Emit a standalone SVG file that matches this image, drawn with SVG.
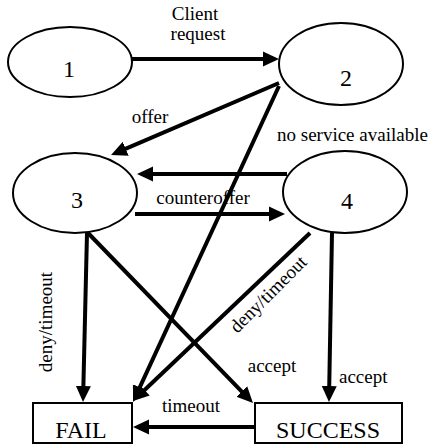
<svg xmlns="http://www.w3.org/2000/svg" width="429" height="447" viewBox="0 0 429 447">
<style>
.node{fill:#fff;stroke:#000;stroke-width:2}
.edge{fill:none;stroke:#000;stroke-width:4}
text{font-family:'Liberation Serif','DejaVu Serif',serif;fill:#000}
.num{font-size:24px;text-anchor:middle}
.lbl{font-size:19px}
.mid{text-anchor:middle}
</style>
<defs>
<marker id="ah" markerUnits="userSpaceOnUse" markerWidth="16" markerHeight="16" viewBox="0 0 16 16" refX="8" refY="8" orient="auto">
<path d="M0,0.5 L16,8 L0,15.5 Z" fill="#000"/>
</marker>
</defs>
<rect width="429" height="447" fill="#fff"/>
<g id="connectors">
<line class="edge" x1="132" y1="59" x2="271" y2="59" marker-end="url(#ah)"/>
<line class="edge" x1="279" y1="83" x2="118.4" y2="151.9" marker-end="url(#ah)"/>
<line class="edge" x1="279" y1="86" x2="136.4" y2="394.7" marker-end="url(#ah)"/>
<line class="edge" x1="287" y1="174" x2="145" y2="174" marker-end="url(#ah)"/>
<line class="edge" x1="135" y1="214" x2="277" y2="214" marker-end="url(#ah)"/>
<line class="edge" x1="87" y1="233" x2="83.2" y2="394" marker-end="url(#ah)"/>
<line class="edge" x1="88" y1="233" x2="247.4" y2="397.3" marker-end="url(#ah)"/>
<line class="edge" x1="310" y1="233" x2="138.8" y2="395.5" marker-end="url(#ah)"/>
<line class="edge" x1="332" y1="233" x2="329.1" y2="394" marker-end="url(#ah)"/>
<line class="edge" x1="255" y1="427" x2="141" y2="427" marker-end="url(#ah)"/>
<g font-family="Liberation Serif, DejaVu Serif, serif">
<text class="lbl mid" x="195" y="20">Client</text>
<text class="lbl mid" x="198" y="40">request</text>
<text class="lbl mid" x="150" y="123">offer</text>
<text class="lbl" x="277" y="141">no service available</text>
<text class="lbl mid" x="203" y="204">counteroffer</text>
<text class="lbl mid" x="272" y="372">accept</text>
<text class="lbl" x="339" y="383">accept</text>
<text class="lbl mid" x="191" y="412">timeout</text>
<text class="lbl mid" transform="translate(52,322) rotate(-90)">deny/timeout</text>
<text class="lbl mid" transform="translate(272.6,298.6) rotate(-45)">deny/timeout</text>
</g>
</g>
<g id="node1"><ellipse class="node" cx="70" cy="62" rx="62" ry="35"/><text class="num" x="69" y="77">1</text></g>
<g id="node2"><ellipse class="node" cx="341" cy="64" rx="62" ry="41"/><text class="num" x="346" y="86">2</text></g>
<g id="node3"><ellipse class="node" cx="75" cy="193" rx="62" ry="40"/><text class="num" x="77" y="208">3</text></g>
<g id="node4"><ellipse class="node" cx="345" cy="192" rx="62" ry="41"/><text class="num" x="347" y="209">4</text></g>
<g id="fail"><rect class="node" x="33" y="403" width="99" height="40"/><text class="num" x="81" y="438">FAIL</text></g>
<g id="success"><rect class="node" x="255" y="403" width="147" height="40"/><text class="num" x="328" y="438">SUCCESS</text></g>
</svg>
